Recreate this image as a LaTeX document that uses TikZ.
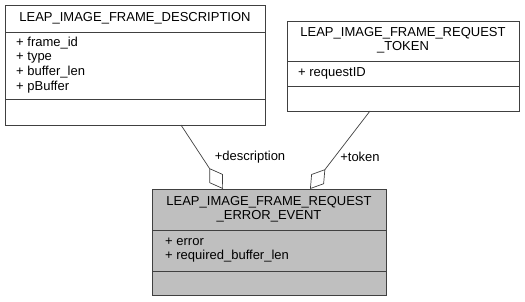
\documentclass[tikz,border=0pt]{standalone}
\usepackage{fontspec}
\setmainfont{Liberation Sans}
\usetikzlibrary{arrows.meta}

\definecolor{linegray}{HTML}{404040}
\definecolor{boxgray}{HTML}{BFBFBF}

\tikzset{
  classbox/.style={draw=linegray,line width=0.9bp},
  member/.style={anchor=west,inner sep=0pt},
  title/.style={inner sep=0pt},
  aggr/.style={draw=linegray,line width=0.7bp,
    -{Diamond[open,length=25bp,width=16bp]}},
  role/.style={inner sep=0pt}
}

\begin{document}
\begin{tikzpicture}[x=1bp,y=-1bp,font=\fontsize{13bp}{14.6bp}\selectfont]
  \useasboundingbox (0,0) rectangle (525,301);

  \draw[classbox,fill=white] (5,5) rectangle (265,125);
  \draw[classbox] (5,32) -- (265,32);
  \draw[classbox] (5,99) -- (265,99);
  \node[title] (desctitle) at (135,18.5) {LEAP\_IMAGE\_FRAME\_DESCRIPTION};
  \node[member] (descm1) at (16,43.5) {+ frame\_id};
  \node[member] (descm2) at (16,58) {+ type};
  \node[member] (descm3) at (16,72.5) {+ buffer\_len};
  \node[member] (descm4) at (16,87) {+ pBuffer};

  \draw[classbox,fill=white] (287,21) rectangle (519,111);
  \draw[classbox] (287,61) -- (519,61);
  \draw[classbox] (287,86) -- (519,86);
  \node[title] (tokentitle1) at (403,33.5) {LEAP\_IMAGE\_FRAME\_REQUEST};
  \node[title] (tokentitle2) at (403,47) {\_TOKEN};
  \node[member] (tokenm1) at (298,73.5) {+ requestID};

  \draw[classbox,fill=boxgray] (152,189) rectangle (386,295);
  \draw[classbox] (152,230) -- (386,230);
  \draw[classbox] (152,271) -- (386,271);
  \node[title] (evttitle1) at (269,202) {LEAP\_IMAGE\_FRAME\_REQUEST};
  \node[title] (evttitle2) at (269,216.5) {\_ERROR\_EVENT};
  \node[member] (evtm1) at (165,242) {+ error};
  \node[member] (evtm2) at (165,256.5) {+ required\_buffer\_len};

  \coordinate (descout) at (181,125);
  \coordinate (tokenout) at (370,111);
  \coordinate (evtdesc) at (223,189);
  \coordinate (evttoken) at (310,189);
  \draw[aggr] (descout) -- (evtdesc);
  \draw[aggr] (tokenout) -- (evttoken);
  \node[role] (descrole) at (250,157) {+description};
  \node[role] (tokenrole) at (360,157) {+token};
\end{tikzpicture}
\end{document}
